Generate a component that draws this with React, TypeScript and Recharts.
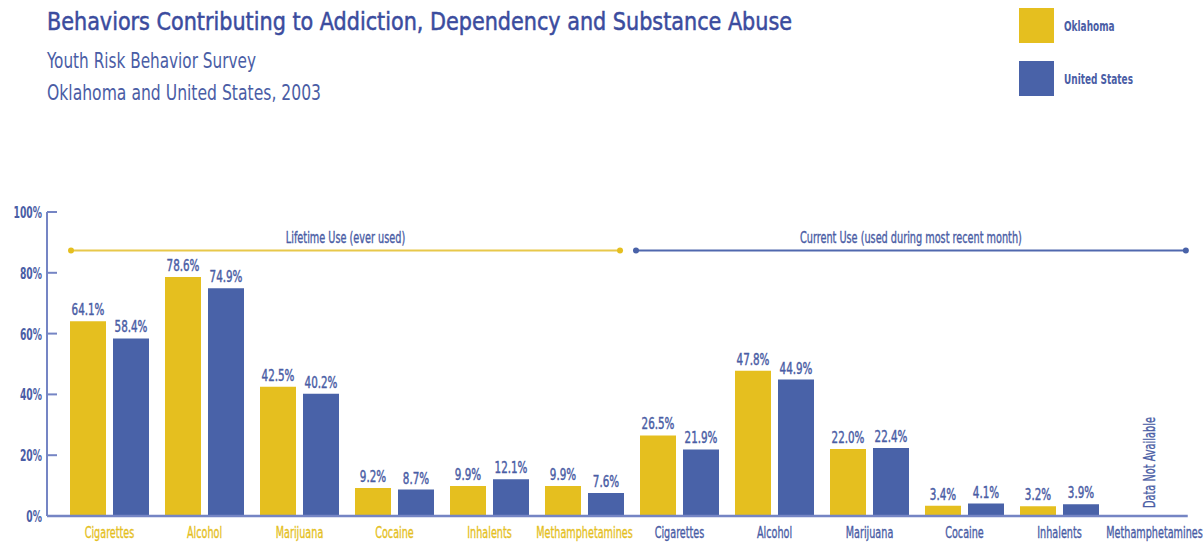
import React from 'react';
import {
  BarChart,
  Bar,
  XAxis,
  YAxis,
  LabelList,
  ReferenceLine,
  ReferenceDot,
  Legend,
} from 'recharts';

// ---- data ----
const categories = [
  'Cigarettes', 'Alcohol', 'Marijuana', 'Cocaine', 'Inhalents', 'Methamphetamines',
  'Cigarettes', 'Alcohol', 'Marijuana', 'Cocaine', 'Inhalents', 'Methamphetamines',
];
const periods = [
  'lifetime', 'lifetime', 'lifetime', 'lifetime', 'lifetime', 'lifetime',
  'current', 'current', 'current', 'current', 'current', 'current',
];
const oklahoma: (number | null)[] = [64.1, 78.6, 42.5, 9.2, 9.9, 9.9, 26.5, 47.8, 22.0, 3.4, 3.2, null];
const unitedStates: (number | null)[] = [58.4, 74.9, 40.2, 8.7, 12.1, 7.6, 21.9, 44.9, 22.4, 4.1, 3.9, null];
const yTicks = [0, 20, 40, 60, 80, 100];
const seriesNames = ['Oklahoma', 'United States'];
const groupLabels = ['Lifetime Use (ever used)', 'Current Use (used during most recent month)'];
const noDataNote = 'Data Not Available';

const titleLines = [
  'Behaviors Contributing to Addiction, Dependency and Substance Abuse',
  'Youth Risk Behavior Survey',
  'Oklahoma and United States, 2003',
];

// slot = centre of each category, in category units
const data = categories.map((name, i) => ({
  key: `${periods[i]}|${name}`,
  slot: i + 0.5,
  name,
  period: periods[i],
  ok: oklahoma[i],
  us: unitedStates[i],
}));

// ---- styling ----
const FONT = '"Liberation Sans Narrow", "DejaVu Sans Condensed", "Noto Sans", sans-serif';
const YELLOW = '#E5BF1F';
const BLUE = '#4962A8';
const TEXT_BLUE = '#4A5DA5';
const TITLE_BLUE = '#3B4C9E';
const AXIS_BLUE = '#7585C4';
const LIFETIME_LINE = '#E8C84A';
const CURRENT_LINE = '#5068AE';

// Horizontally condensed text helper
function NarrowText(props: {
  x: number;
  y: number;
  text: string;
  size: number;
  color: string;
  anchor?: 'start' | 'middle' | 'end';
  sx?: number;
  rotate?: number;
  weight?: string | number;
  outline?: number;
}) {
  const { x, y, text, size, color, anchor = 'middle', sx = 0.85, rotate = 0, weight = 'normal', outline = 0.35 } = props;
  return (
    <text
      transform={`translate(${x},${y}) rotate(${rotate}) scale(${sx},1)`}
      x={0}
      y={0}
      textAnchor={anchor}
      fontFamily={FONT}
      fontSize={size}
      fontWeight={weight}
      fill={color}
      stroke={outline > 0 ? color : 'none'}
      strokeWidth={outline}
    >
      {text}
    </text>
  );
}

const YTick = (props: any) => {
  const { x, y, payload } = props;
  return (
    <NarrowText x={x} y={y + 6} text={`${payload.value}%`} size={16} color={TEXT_BLUE} anchor="end" sx={0.64} weight="bold" outline={0} />
  );
};

const XTick = (props: any) => {
  const { x, y, payload } = props;
  const [period, name] = String(payload.value).split('|');
  const color = period === 'lifetime' ? YELLOW : TEXT_BLUE;
  return <NarrowText x={x} y={y + 14} text={name} size={16} color={color} sx={0.67} />;
};

const ValueLabel = (props: any) => {
  const { x, y, width, value } = props;
  if (value === null || value === undefined) return null;
  return (
    <NarrowText
      x={Number(x) + Number(width) / 2}
      y={Number(y) - 6}
      text={`${Number(value).toFixed(1)}%`}
      size={16}
      color={TEXT_BLUE}
      sx={0.72}
      outline={0.45}
    />
  );
};

const renderLegend = (props: any) => {
  const items = (props.payload ?? []) as any[];
  return (
    <div>
      {items.map((it, i) => (
        <div
          key={i}
          style={{ display: 'flex', alignItems: 'center', height: 35, marginBottom: i === 0 ? 18 : 0 }}
        >
          <div style={{ width: 35, height: 35, background: it.color }} />
          <span
            style={{
              marginLeft: 10,
              fontFamily: FONT,
              fontSize: 14,
              fontWeight: 'bold',
              color: TEXT_BLUE,
              display: 'inline-block',
              transform: 'scaleX(0.71)',
              transformOrigin: 'left center',
              whiteSpace: 'nowrap',
            }}
          >
            {it.value}
          </span>
        </div>
      ))}
    </div>
  );
};

// category axis starts this many category units right of the y axis
const LEAD_IN = 15 / 95;

export default function App() {
  const n = categories.length;
  const half = n / 2;
  const bracketY = 87.3;
  const lifetimeSpan = [0.095, half - 0.126];
  const currentSpan = [half + 0.042, n - 0.17];

  return (
    <div style={{ position: 'absolute', left: 0, top: 0, width: 1203, height: 543, background: '#fff' }}>
      <BarChart
        width={1203}
        height={543}
        data={data}
        margin={{ top: 212, right: 1, bottom: 0, left: 0 }}
        barSize={36}
        barGap={7}
      >
        <XAxis
          dataKey="key"
          interval={0}
          height={27}
          axisLine={false}
          tickLine={false}
          padding={{ left: 15, right: 0 }}
          tick={<XTick />}
        />
        <XAxis
          xAxisId="pos"
          dataKey="slot"
          type="number"
          domain={[-LEAD_IN, n]}
          allowDataOverflow
          hide
        />
        <YAxis
          width={47}
          domain={[0, 100]}
          ticks={yTicks}
          interval={0}
          axisLine={{ stroke: AXIS_BLUE, strokeWidth: 2 }}
          tickLine={{ stroke: AXIS_BLUE, strokeWidth: 2 }}
          tickSize={-10}
          tickMargin={15}
          tick={<YTick />}
        />
        <Legend
          layout="vertical"
          align="center"
          verticalAlign="middle"
          content={renderLegend}
          wrapperStyle={{ left: 1019, top: 8, width: 180, height: 90 }}
        />
        <Bar dataKey="ok" name={seriesNames[0]} fill={YELLOW} isAnimationActive={false}>
          <LabelList dataKey="ok" content={<ValueLabel />} />
        </Bar>
        <Bar dataKey="us" name={seriesNames[1]} fill={BLUE} isAnimationActive={false}>
          <LabelList dataKey="us" content={<ValueLabel />} />
        </Bar>

        {/* baseline */}
        <ReferenceLine
          xAxisId="pos"
          segment={[{ x: -LEAD_IN, y: 0 }, { x: n - 0.15, y: 0 }]}
          stroke={AXIS_BLUE}
          strokeWidth={2.5}
          ifOverflow="visible"
        />

        {/* period brackets */}
        <ReferenceLine
          xAxisId="pos"
          segment={[{ x: lifetimeSpan[0], y: bracketY }, { x: lifetimeSpan[1], y: bracketY }]}
          stroke={LIFETIME_LINE}
          strokeWidth={2}
        />
        <ReferenceDot xAxisId="pos" x={lifetimeSpan[0]} y={bracketY} r={3} fill={YELLOW} stroke="none" />
        <ReferenceDot xAxisId="pos" x={lifetimeSpan[1]} y={bracketY} r={3} fill={YELLOW} stroke="none" />
        <ReferenceDot
          xAxisId="pos"
          x={(lifetimeSpan[0] + lifetimeSpan[1]) / 2}
          y={bracketY}
          r={0}
          fill="none"
          stroke="none"
          label={(p: any) => (
            <NarrowText x={p.viewBox.x} y={p.viewBox.y - 8} text={groupLabels[0]} size={15} color={TEXT_BLUE} sx={0.72} />
          )}
        />

        <ReferenceLine
          xAxisId="pos"
          segment={[{ x: currentSpan[0], y: bracketY }, { x: currentSpan[1], y: bracketY }]}
          stroke={CURRENT_LINE}
          strokeWidth={2}
        />
        <ReferenceDot xAxisId="pos" x={currentSpan[0]} y={bracketY} r={3} fill={BLUE} stroke="none" />
        <ReferenceDot xAxisId="pos" x={currentSpan[1]} y={bracketY} r={3} fill={BLUE} stroke="none" />
        <ReferenceDot
          xAxisId="pos"
          x={(currentSpan[0] + currentSpan[1]) / 2}
          y={bracketY}
          r={0}
          fill="none"
          stroke="none"
          label={(p: any) => (
            <NarrowText x={p.viewBox.x} y={p.viewBox.y - 8} text={groupLabels[1]} size={15} color={TEXT_BLUE} sx={0.72} />
          )}
        />

        {/* missing current methamphetamine figures */}
        <ReferenceDot
          xAxisId="pos"
          x={n - 0.5}
          y={0}
          r={0}
          fill="none"
          stroke="none"
          ifOverflow="visible"
          label={(p: any) => (
            <NarrowText
              x={p.viewBox.x}
              y={p.viewBox.y - 8}
              text={noDataNote}
              size={16}
              color={TEXT_BLUE}
              anchor="start"
              rotate={-90}
              sx={0.68}
            />
          )}
        />
      </BarChart>

      <svg
        width={1203}
        height={110}
        style={{ position: 'absolute', left: 0, top: 0, pointerEvents: 'none' }}
      >
        <text
          x={47}
          y={30}
          fontFamily={FONT}
          fontSize={25}
          fill={TITLE_BLUE}
          stroke={TITLE_BLUE}
          strokeWidth={0.5}
          textLength={745}
          lengthAdjust="spacingAndGlyphs"
        >
          {titleLines[0]}
        </text>
        <text x={47} y={68} fontFamily={FONT} fontSize={22} fill={TEXT_BLUE} textLength={209} lengthAdjust="spacingAndGlyphs">
          {titleLines[1]}
        </text>
        <text x={47} y={100} fontFamily={FONT} fontSize={22} fill={TEXT_BLUE} textLength={274} lengthAdjust="spacingAndGlyphs">
          {titleLines[2]}
        </text>
      </svg>
    </div>
  );
}
